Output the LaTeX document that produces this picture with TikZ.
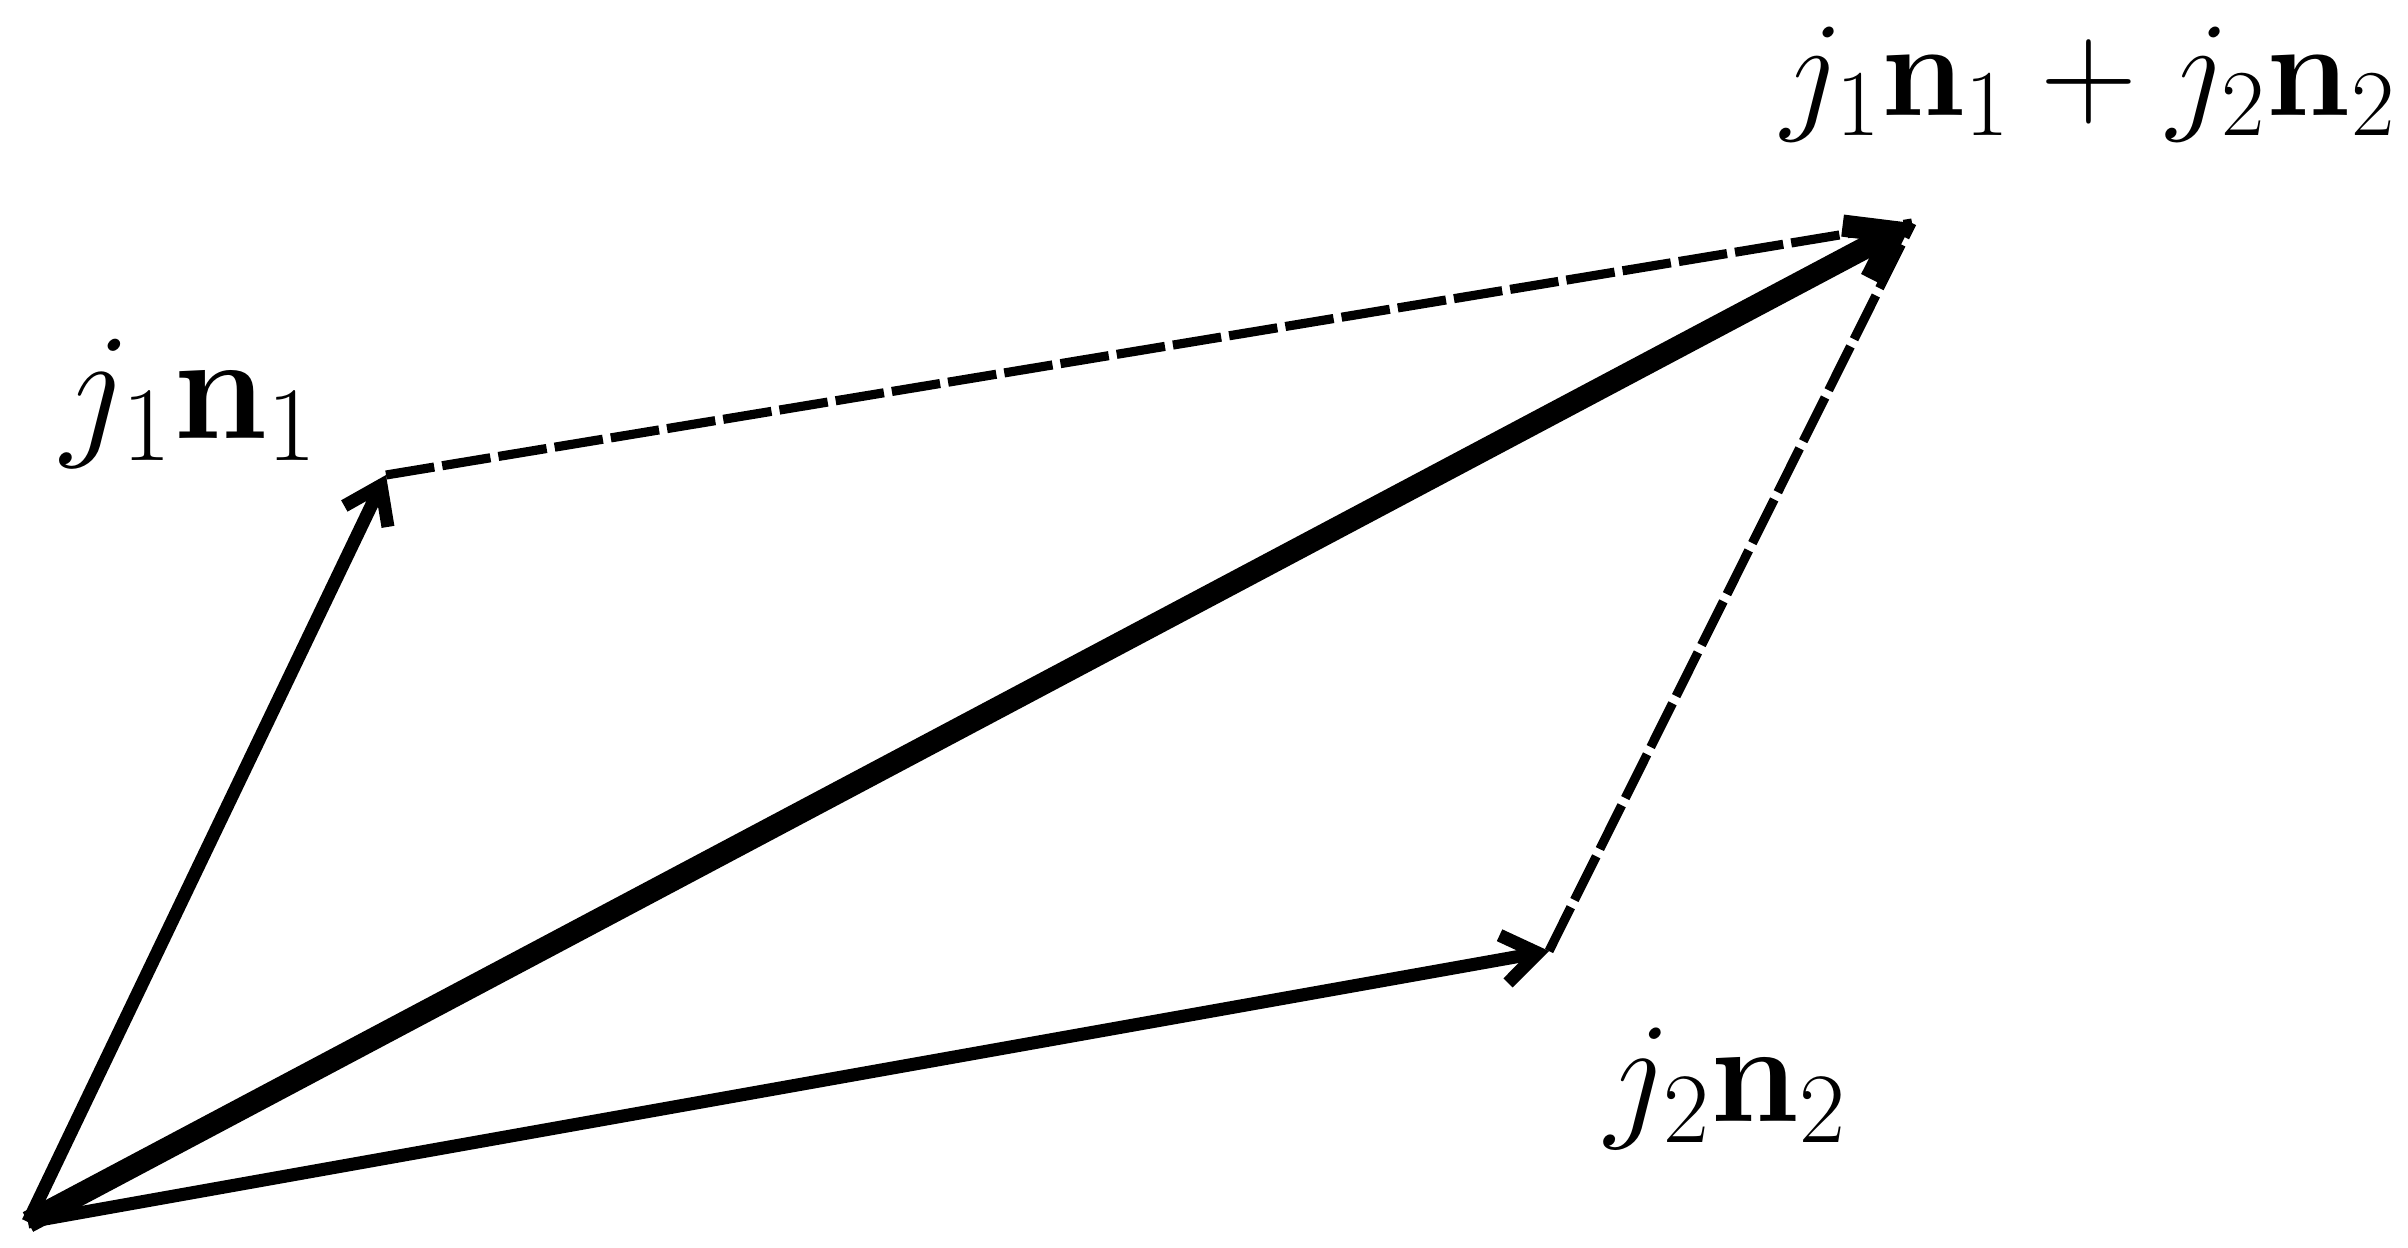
\RequirePackage{fix-cm}
\documentclass[tikz,border=0pt]{standalone}
\usetikzlibrary{arrows.meta}
\begin{document}
\begin{tikzpicture}[x=0.01cm,y=-0.01cm,
  vecline/.style={line width=3.7pt,-{Straight Barb[angle=70:12pt]}},
  sumline/.style={line width=6.3pt,-{Straight Barb[angle=70:15pt]}},
  helper/.style={line width=2.6pt,dash pattern=on 13.9pt off 2.3pt},
  lab/.style={inner sep=0pt,anchor=base west}]
\useasboundingbox (0,0) rectangle (2408,1247);
\coordinate (O) at (28,1222);
\coordinate (A) at (386,475);
\coordinate (B) at (1549,951);
\coordinate (S) at (1912,223);
\draw[helper] (A) -- (S);
\draw[helper] (B) -- (S);
\draw[vecline] (O) -- (A);
\draw[vecline] (O) -- (B);
\draw[sumline] (O) -- (S);
\node[lab,font=\fontsize{43}{51}\selectfont] (la) at (61,438) {$j_1\mathbf{n}_1$};
\node[lab,font=\fontsize{40.5}{48}\selectfont] (lb) at (1605,1121) {$j_2\mathbf{n}_2$};
\node[lab,font=\fontsize{38.3}{46}\selectfont] (ls) at (1781,115) {$j_1\mathbf{n}_1+j_2\mathbf{n}_2$};
\end{tikzpicture}
\end{document}
